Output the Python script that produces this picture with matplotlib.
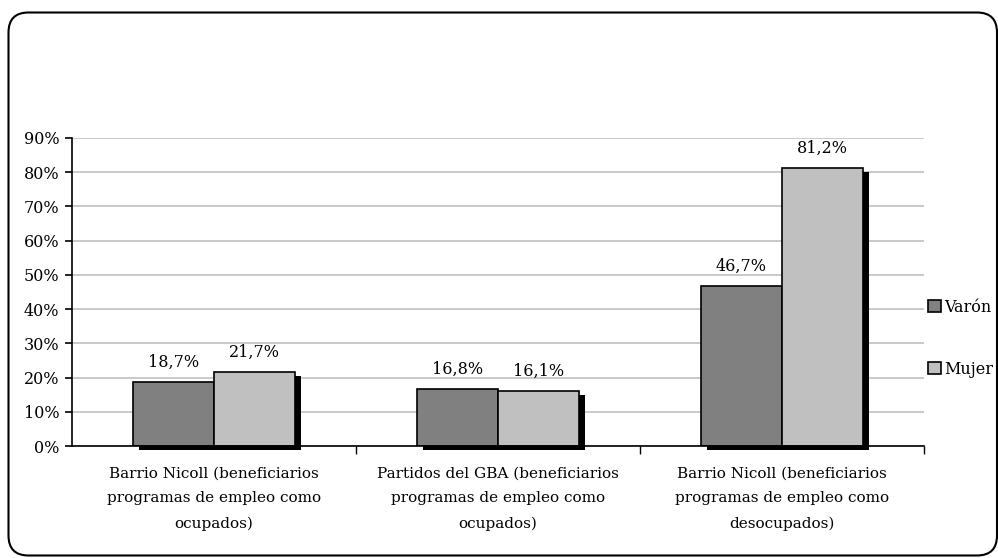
import numpy as np
import matplotlib.pyplot as plt
from matplotlib.patches import FancyBboxPatch

categories = [
    "Barrio Nicoll (beneficiarios\nprogramas de empleo como\nocupados)",
    "Partidos del GBA (beneficiarios\nprogramas de empleo como\nocupados)",
    "Barrio Nicoll (beneficiarios\nprogramas de empleo como\ndesocupados)",
]
varon = [18.7, 16.8, 46.7]
mujer = [21.7, 16.1, 81.2]
yticks = [0, 10, 20, 30, 40, 50, 60, 70, 80, 90]

plt.rcParams["font.family"] = ["DejaVu Serif"]
plt.rcParams["font.size"] = 11

fig = plt.figure(figsize=(9.98, 5.58), dpi=100)
ax = fig.add_axes([0.0721, 0.2007, 0.8537, 0.552])

x = np.arange(len(categories))
w = 0.285

# shadow behind each pair of bars
dx, dy = 0.022, -1.2
for i in range(len(categories)):
    ax.bar(x[i] - w + dx, varon[i], width=w, bottom=dy, align="edge",
           color="black", zorder=2, clip_on=False)
    ax.bar(x[i] + dx, mujer[i], width=w, bottom=dy, align="edge",
           color="black", zorder=2, clip_on=False)

b1 = ax.bar(x - w / 2, varon, width=w, color="#808080", edgecolor="black",
            linewidth=1.2, label="Varón", zorder=3)
b2 = ax.bar(x + w / 2, mujer, width=w, color="#c0c0c0", edgecolor="black",
            linewidth=1.2, label="Mujer", zorder=3)

for bars, vals in [(b1, varon), (b2, mujer)]:
    for b, v in zip(bars, vals):
        ax.annotate(f"{v:.1f}%".replace(".", ","), (b.get_x() + b.get_width() / 2, v),
                    xytext=(0, 8), textcoords="offset points", ha="center",
                    va="bottom", fontsize=11.5)

ax.set_xlim(-0.5, 2.5)
ax.set_ylim(0, 90)
ax.set_yticks(yticks)
ax.set_yticklabels([f"{t}%" for t in yticks], fontsize=11.5)
ax.set_xticks(x)
ax.set_xticklabels(categories, linespacing=1.95)
ax.tick_params(axis="x", length=0, pad=15)
ax.set_xticks([0.5, 1.5, 2.5], minor=True)
ax.tick_params(axis="x", which="minor", length=6, width=1, color="black")
ax.tick_params(axis="y", length=5, width=1.2, direction="out", pad=4)

ax.grid(axis="y", color="#c0c0c0", linewidth=1.2, zorder=0)
ax.set_axisbelow(True)
for s in ["top", "right"]:
    ax.spines[s].set_visible(False)
ax.spines["left"].set_linewidth(1.2)
ax.spines["bottom"].set_linewidth(1.2)
ax.spines["bottom"].set_zorder(4)

leg = ax.legend(loc="center left", bbox_to_anchor=(0.997, 0.35), frameon=False,
                handlelength=0.8, handleheight=0.8, handletextpad=0.2,
                labelspacing=2.8, fontsize=11.5, borderaxespad=0)

border = FancyBboxPatch((0.085, 0.025), 9.885, 5.43,
                        boxstyle="round,pad=0,rounding_size=0.2",
                        transform=fig.dpi_scale_trans, fill=False,
                        edgecolor="black", linewidth=1.5)
fig.patches.append(border)

fig.savefig("out.png", dpi=100)
